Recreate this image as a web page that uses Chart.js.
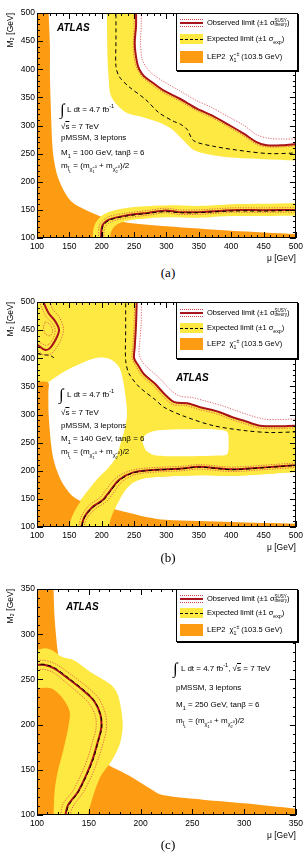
<!DOCTYPE html>
<html>
<head>
<meta charset="utf-8">
<title>pMSSM 3 leptons</title>
<script src="https://cdn.jsdelivr.net/npm/chart.js@4/dist/chart.umd.min.js"></script>
<style>
body { margin: 0; background: #fff; }
#page { position: relative; width: 307px; height: 858px; overflow: hidden; font-family: "Liberation Sans", Arial, sans-serif; color: #000; }
canvas { position: absolute; left: 0; }
.txt { position: absolute; font-size: 8px; line-height: 10px; white-space: nowrap; }
.int { position: absolute; font-family: "Liberation Serif", serif; font-size: 16px; line-height: 16px; }
.atlas { position: absolute; font-size: 10px; line-height: 12px; font-weight: bold; font-style: italic; }
.cap { position: absolute; left: 0; width: 336px; text-align: center; font-family: "Liberation Serif", serif; font-size: 13px; line-height: 14px; }
.leg { position: absolute; left: 176px; width: 122px; box-sizing: border-box; border: 1px solid #000; box-shadow: 1px 1px 0 #000; background: #fff; font-size: 7.5px; }
.sw { position: absolute; left: 3px; width: 23px; height: 10px; }
.lt { position: absolute; left: 30px; line-height: 10px; white-space: nowrap; }
.ss { display: inline-block; vertical-align: middle; font-size: 4.5px; line-height: 4.5px; text-align: left; }
.ss span { display: block; }
sub, sup { font-size: 70%; line-height: 0; }
.ov { text-decoration: overline; }
</style>
</head>
<body>
<div id="page">
  <canvas id="chartA" width="307" height="265" style="top:0px"></canvas>
  <canvas id="chartB" width="307" height="265" style="top:289px"></canvas>
  <canvas id="chartC" width="307" height="266" style="top:576px"></canvas>
</div>
<script>
var ORANGE = '#fd9b12';
var YELLOW = '#fee842';
var RED = '#a8131d';
var RED_DOT = '#dc4048';

// ---- panel (a): M1 = 100 GeV ----
var aLep = [[90,510],[118,510],[118,500],[120,440],[120,387],[121.5,328],[123.5,269],[126,240],[131.7,210],[143,181],[155,163],[173,151],[191,142],[210,134],[250,126],[300,121],[400,113],[500,107],[510,106],[510,90],[90,90]];
var aBandUp = [[208,510],[208,500],[209,417],[211,380],[213,357],[218,345],[226,334],[240,322],[260,316],[280,309],[296,302],[310,292],[325,275],[340,258],[360,250],[400,243],[450,240],[500,238],[510,238],
  [510,269],[500,268],[480,266],[455,266],[440,271],[420,286],[398,301],[370,319],[347,331],[320,349],[296,363],[280,376],[265,389],[258,401],[255,411],[253,430],[252,447],[253,464],[254,476],[254,500],[254,510]];
var aObsUp = [[253,510],[253,476],[252,464],[251,447],[252,430],[255,410],[258,400],[265,388],[280,375],[296,362],[320,348],[347,330],[370,318],[398,300],[420,285],[440,270],[455,265],[480,265],[500,267],[510,268]];
var aObsUpHi = [[261,510],[261,476],[260,450],[262,420],[268,405],[278,392],[296,378],[320,362],[347,344],[370,332],[398,314],[420,300],[440,283],[460,277],[480,276],[500,276],[510,276]];
var aObsUpLo = [[250,510],[250,476],[249,450],[249,430],[252,410],[256,398],[263,386],[278,372],[296,358],[320,344],[347,326],[370,314],[398,296],[420,281],[440,266],[455,262],[480,262],[500,264],[510,265]];
var aExpUp = [[222,510],[222,450],[222,405],[227,387],[242,369],[268,346],[288,323],[310,308],[322,302],[332,293],[342,273],[373,263],[424,254],[460,250],[500,251],[510,251]];
var aBandLow = [[184,90],[186,100],[187,115],[192,130],[203,142],[222,150],[260,156],[300,158],[350,157],[400,160],[450,161],[500,162],[510,162],
  [510,140],[500,140],[450,139],[400,139],[350,136],[300,137],[260,134],[236,130],[221,122],[214,110],[213,100],[212,90]];
var aObsLow = [[199,90],[199,100],[201,122],[212,133],[237.5,140],[273,145],[299,149],[319,146],[350,146],[401,149.5],[452,149.5],[500,150],[510,150]];
var aObsLowHi = [[195,90],[195,100],[197,124],[209,137],[236,144],[272,149],[299,153],[319,150],[350,150],[401,153.5],[452,153.5],[500,154],[510,154]];
var aObsLowLo = [[203,90],[203,100],[205,119],[215,129],[239,136],[274,141],[299,145],[319,142],[350,142],[401,145.5],[452,145.5],[500,146],[510,146]];
var aExpLow = [[200,90],[200,100],[202,121],[213,132],[238,139],[273,144],[300,147],[320,145],[350,145],[400,148],[450,148],[500,149],[510,149]];

// ---- panel (b): M1 = 140 GeV ----
var bLep = [[90,357],[117,357],[117.5,340],[118,300],[122.5,240],[127.6,211],[138,181],[153,157],[168,146],[185,140],[212,134],[240,126],[268,118],[299,113],[400,109],[500,106],[510,106],[510,90],[90,90]];
var bBand = [[90,510],[255,510],[255,500],[254,460],[252,420],[251,400],[257,389],[266,373],[283,356],[299,336],[313,323],[333,321],[353,314],[381,306],[401,297],[423,289],[446,281],[470,280],[500,281],[510,281],
  [510,198],[500,198],[450,194],[400,191],[350,192],[300,190],[268,187],[250,180],[238,168],[228,150],[220,132],[214,115],[211,100],[211,90],[90,90]];
var bHole1 = [[114,354],[128,366],[148,380],[174,394],[194,401],[214,398],[227,384],[233,360],[237,330],[239,300],[236,276],[230,252],[226,236],[222,223],[210,205],[196,189],[182,170],[170,152],[162,138],[156,125],[140,130],[120,200],[112,300]];
var bHole2 = [[263,250],[266,262],[278,270],[300,273],[340,274],[380,273],[394,269],[396,250],[394,230],[380,227],[340,226],[300,226],[280,228],[268,236]];
var bBandLow = [[150,90],[150,100],[153,115],[160,132],[170,150],[184,168],[198,186],[212,201],[230,212],[260,215],[300,216],[350,218],[400,215],[450,217],[500,221],[510,221],
  [510,198],[500,198],[450,194],[400,191],[350,192],[300,190],[268,187],[250,180],[238,168],[228,150],[220,132],[214,115],[211,100],[211,90]];
var bObsUp = [[254,510],[254,500],[253,460],[251,420],[250,400],[256,388],[265,372],[282,355],[298,335],[312,322],[332,320],[352,313],[380,305],[400,296],[422,288],[445,280],[470,279],[500,280],[510,280]];
var bObsUpHi = [[261,510],[261,460],[258,420],[258,405],[263,393],[274,380],[290,364],[305,345],[320,333],[340,330],[360,324],[385,316],[405,308],[425,300],[450,292],[475,291],[500,292],[510,292]];
var bObsUpLo = [[251,510],[250,460],[248,420],[247,400],[253,386],[262,369],[279,352],[295,332],[309,318],[330,316],[350,309],[378,301],[398,292],[420,284],[443,276],[470,275],[500,276],[510,276]];
var bExpUp = [[237,510],[237,450],[237,396],[242,373],[258,349],[283,326],[296,313],[327,297],[373,280],[424,271],[460,268],[500,269],[510,269]];
var bObsLoop = [[90,425],[100,424],[112,415],[120,418],[130,436],[134,451],[128,466],[118,480],[110,500],[108,510]];
var bObsLoopHi = [[90,415],[100,414],[110,406],[122,408],[135,428],[141,451],[135,472],[124,488],[118,510]];
var bObsLoopLo = [[90,432],[100,431],[113,423],[119,425],[126,438],[128,451],[123,463],[113,476],[104,500],[102,510]];
var bDotLoop = [[113,465],[120,460],[124,448],[120,440],[113,443],[110,455],[113,465]];
var bExpLoop = [[90,408],[100,408],[112,406],[120,405],[126,401]];
var bObsLow = [[168,90],[168.5,100],[173.6,118.5],[186,136],[201.6,148],[212,163],[227,184],[247.6,196.6],[273,201],[324,204],[350,207],[401,202.6],[452,206],[500,210],[510,211]];
var bObsLowHi = [[164,90],[164.5,100],[169,120],[181,139],[197,152],[207,167],[223,188],[245,200.6],[272,205],[324,208],[350,211],[401,206.6],[452,210],[500,214],[510,215]];
var bObsLowLo = [[172,90],[172.5,100],[178,117],[191,133],[206,144],[217,159],[231,180],[250,192.6],[274,197],[324,200],[350,203],[401,198.6],[452,202],[500,206],[510,207]];
var bExpLow = [[169,90],[169,100],[174,118],[186.5,135],[202,147],[212.5,162],[227.5,183],[248,196],[273,200.5],[324,203.5],[350,206.5],[401,202],[452,205.5],[500,209.5],[510,210.5]];

// ---- panel (c): M1 = 250 GeV ----
var cLep = [[90,360],[116,360],[116,350],[117,318],[120,281],[123,255],[135,215],[150,185],[160,168],[167,157],[190,143],[211,128],[221,122],[260,117],[300,113],[350,107],[360,106],[360,90],[90,90]];
var cBand = [[90,282.5],[100,282.5],[108,284.4],[115,282],[124,275],[136,271],[152,258],[171.5,244],[178,233],[181.7,214],[182.7,196],[179.5,177],[171.5,159],[162,144],[155.6,126],[149,100],[148,90],
  [116,90],[116,100],[117,126],[120,148],[125,170],[130,196],[131.6,214],[125,229],[114,240],[100,240],[90,240]];
var cObs = [[90,266],[100,266],[107.7,266],[117,262],[130,251],[146,236.4],[155.6,225.3],[161.3,210.6],[162,196],[158.7,181],[154,162.7],[147.6,144.3],[139.6,125.8],[130,111],[127.5,100],[127,90]];
var cObsHi = [[90,271],[100,271],[108,271],[118,267],[132,256],[149,241],[159.5,229],[166,212],[167,196],[164,180],[159,162],[152.6,143],[144.6,125],[135,110],[132,100],[131,90]];
var cObsLo = [[90,261],[100,261],[107,261],[116,257.5],[128,246.5],[143,232],[151.5,221.5],[156.5,209],[157,196],[153.7,181.5],[149,163],[142.6,145],[134.6,126.5],[125,112],[123,100],[122.5,90]];
var cExp = [[90,266.5],[100,266.5],[108,266.5],[117.5,262.5],[130.5,251.5],[146.5,237],[156,225.5],[161.5,210.5],[162.5,196],[159,181],[154.5,162.5],[148,144],[140,125.5],[130.5,110.5],[128,100],[127.5,90]];

function toXY(p) { return { x: p[0], y: p[1] }; }

function area(pts, color) {
  return { data: pts.map(toXY), fill: 'shape', backgroundColor: color, borderColor: 'rgba(0,0,0,0)', borderWidth: 1, pointRadius: 0, tension: 0.3, clip: 0 };
}
function curve(pts, color, width, dash) {
  return { data: pts.map(toXY), fill: false, borderColor: color, borderWidth: width, borderDash: dash || [], pointRadius: 0, tension: 0.3, clip: 0 };
}
function dotted(pts) { return curve(pts, RED_DOT, 0.8, [1.2, 1.4]); }
function dashed(pts) { return curve(pts, '#000', 1, [4, 3]); }

var frameTicks = {
  id: 'frameTicks',
  afterDatasetsDraw: function(chart) {
    var ctx = chart.ctx, a = chart.chartArea;
    var xs = chart.scales.x, ys = chart.scales.y;
    ctx.save();
    ctx.strokeStyle = '#000';
    ctx.lineWidth = 1;
    ctx.beginPath();
    var v, p, len;
    for (v = xs.min; v <= xs.max; v += 10) {
      len = (v % 50 === 0) ? 6 : 3;
      p = Math.round(xs.getPixelForValue(v)) + 0.5;
      ctx.moveTo(p, a.bottom); ctx.lineTo(p, a.bottom - len);
      ctx.moveTo(p, a.top); ctx.lineTo(p, a.top + len);
    }
    for (v = ys.min; v <= ys.max; v += 10) {
      len = (v % 50 === 0) ? 6 : 3;
      p = Math.round(ys.getPixelForValue(v)) + 0.5;
      ctx.moveTo(a.left, p); ctx.lineTo(a.left + len, p);
      ctx.moveTo(a.right, p); ctx.lineTo(a.right - len, p);
    }
    ctx.stroke();
    ctx.strokeRect(Math.round(a.left) + 0.5, Math.round(a.top) + 0.5, Math.round(a.right - a.left) - 1, Math.round(a.bottom - a.top) - 1);
    ctx.restore();
  }
};

var tickFont = { family: '"Liberation Sans", Arial, sans-serif', size: 8.5 };

function makeChart(id, xMax, yMax, layers) {
  new Chart(document.getElementById(id), {
    type: 'line',
    data: { datasets: layers.slice().reverse() },
    options: {
      responsive: false,
      animation: false,
      devicePixelRatio: 1,
      events: [],
      layout: { padding: { top: 13, right: 9, left: 0, bottom: 0 } },
      plugins: { legend: { display: false }, tooltip: { enabled: false } },
      scales: {
        x: {
          type: 'linear', min: 100, max: xMax,
          grid: { display: false, drawTicks: false },
          border: { display: false },
          ticks: { stepSize: 50, color: '#000', font: tickFont, padding: 4, maxRotation: 0, autoSkip: false },
          title: { display: true, text: 'μ [GeV]', align: 'end', color: '#000', font: tickFont, padding: { top: 0, bottom: 1 } },
          afterFit: function(s) { s.height = 27; }
        },
        y: {
          type: 'linear', min: 100, max: yMax,
          grid: { display: false, drawTicks: false },
          border: { display: false },
          ticks: { stepSize: 50, color: '#000', font: tickFont, padding: 2, autoSkip: false },
          title: { display: true, text: 'M₂ [GeV]', align: 'end', color: '#000', font: tickFont, padding: { top: 6, bottom: 0 } },
          afterFit: function(s) { s.width = 37; }
        }
      }
    },
    plugins: [frameTicks]
  });
}

// layers listed bottom to top
makeChart('chartA', 500, 500, [
  area(aLep, ORANGE), area(aBandUp, YELLOW), area(aBandLow, YELLOW),
  dashed(aExpUp),
  dotted(aObsUpHi), dotted(aObsUpLo), dotted(aObsLowHi), dotted(aObsLowLo),
  curve(aObsUp, RED, 2), curve(aObsLow, RED, 2), dashed(aExpLow)
]);

makeChart('chartB', 500, 500, [
  area(bBand, YELLOW), area(bHole1, '#ffffff'), area(bHole2, '#ffffff'),
  area(bLep, ORANGE), area(bBandLow, YELLOW),
  dashed(bExpUp), dashed(bExpLoop),
  dotted(bObsUpHi), dotted(bObsUpLo), dotted(bObsLoopHi), dotted(bObsLoopLo), dotted(bDotLoop),
  dotted(bObsLowHi), dotted(bObsLowLo),
  curve(bObsUp, RED, 2), curve(bObsLoop, RED, 2), curve(bObsLow, RED, 2), dashed(bExpLow)
]);

makeChart('chartC', 350, 350, [
  area(cLep, ORANGE), area(cBand, YELLOW),
  dotted(cObsHi), dotted(cObsLo),
  curve(cObs, RED, 2), dashed(cExp)
]);

// ---- text overlays ----
var page = document.getElementById('page');
function put(cls, html, left, top) {
  var d = document.createElement('div');
  d.className = cls;
  d.style.left = left + 'px';
  d.style.top = top + 'px';
  d.innerHTML = html;
  page.appendChild(d);
  return d;
}

function legend(top, h, rows) {
  var d = put('leg', '', 176, top);
  d.style.height = h + 'px';
  d.innerHTML =
    '<div class="sw" style="top:' + (rows[0] - 6) + 'px;background:#fff">' +
      '<div style="position:absolute;left:0;right:0;top:1px;border-top:1px dotted ' + RED_DOT + '"></div>' +
      '<div style="position:absolute;left:0;right:0;top:4px;height:2px;background:' + RED + '"></div>' +
      '<div style="position:absolute;left:0;right:0;top:8px;border-top:1px dotted ' + RED_DOT + '"></div></div>' +
    '<div class="lt" style="top:' + (rows[0] - 6) + 'px">Observed limit (±1 σ<span class="ss"><span>SUSY</span><span>theory</span></span>)</div>' +
    '<div class="sw" style="top:' + (rows[1] - 6) + 'px;background:' + YELLOW + '">' +
      '<div style="position:absolute;left:0;right:0;top:4.5px;border-top:1px dashed #000"></div></div>' +
    '<div class="lt" style="top:' + (rows[1] - 6) + 'px">Expected limit (±1 σ<sub>exp</sub>)</div>' +
    '<div class="sw" style="top:' + (rows[2] - 7) + 'px;height:12px;background:' + ORANGE + '"></div>' +
    '<div class="lt" style="top:' + (rows[2] - 6) + 'px">LEP2&nbsp; χ̃<sub>1</sub><sup>±</sup> (103.5 GeV)</div>';
}

var lumi = 'L dt = 4.7 fb<sup>-1</sup>';
var roots = '√<span class="ov">s</span> = 7 TeV';
var mslep = 'm<sub>l̃<sub>L</sub></sub> = (m<sub>χ̃<sub>1</sub><sup>0</sup></sub> + m<sub>χ̃<sub>2</sub><sup>0</sup></sub>)/2';

// panel (a)
legend(13, 58, [10, 26, 44]);
put('atlas', 'ATLAS', 57, 22);
put('int', '∫', 60, 102);
put('txt', lumi, 67, 105);
put('txt', roots, 61, 122);
put('txt', 'pMSSM, 3 leptons', 61, 133);
put('txt', 'M<sub>1</sub> = 100 GeV, tanβ = 6', 61, 148);
put('txt', mslep, 61, 161);
put('cap', '(a)', 0, 266);

// panel (b)
legend(302, 57, [11, 26, 42]);
put('atlas', 'ATLAS', 176, 372);
put('int', '∫', 59, 387);
put('txt', lumi, 67, 390);
put('txt', roots, 61, 408);
put('txt', 'pMSSM, 3 leptons', 61, 421);
put('txt', 'M<sub>1</sub> = 140 GeV, tanβ = 6', 61, 434);
put('txt', mslep, 61, 447);
put('cap', '(b)', 0, 551);

// panel (c)
legend(589, 53, [10, 24, 41]);
put('atlas', 'ATLAS', 66, 601);
put('int', '∫', 173, 661);
put('txt', lumi + ', ' + roots, 181, 664);
put('txt', 'pMSSM, 3 leptons', 176, 683);
put('txt', 'M<sub>1</sub> = 250 GeV, tanβ = 6', 176, 700);
put('txt', mslep, 176, 716);
put('cap', '(c)', 0, 838);
</script>
</body>
</html>
